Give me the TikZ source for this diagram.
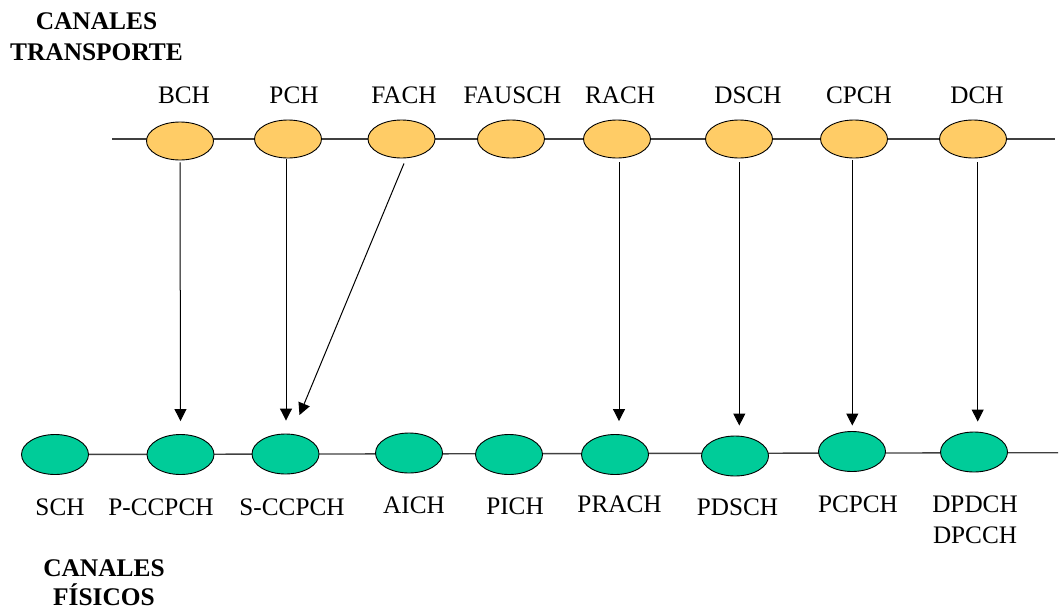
\documentclass[tikz,border=0pt]{standalone}
\usepackage{fontspec}
\setmainfont{Liberation Serif}
\usetikzlibrary{arrows.meta,calc,shapes.geometric}
\definecolor{chanorange}{HTML}{FFCC66}
\definecolor{changreen}{HTML}{00CC99}
\definecolor{wire}{HTML}{404040}
\tikzset{
  chan/.style={ellipse, draw=black, line width=0.9pt, inner sep=0pt, minimum width=67pt},
  tch/.style={chan, fill=chanorange, minimum height=38pt},
  pch/.style={chan, fill=changreen, minimum height=40pt},
  busline/.style={draw=wire, line width=1.4pt},
  maparrow/.style={draw=black, line width=1pt, -{Triangle[width=12pt,length=12pt]}},
  lbl/.style={anchor=base, inner sep=0pt, font=\fontsize{25.2}{30.6}\selectfont},
  title/.style={anchor=base, inner sep=0pt, font=\fontsize{25.4}{30.6}\selectfont\bfseries}
}
\begin{document}
\begin{tikzpicture}[x=1pt,y=-1pt]
\useasboundingbox (0,0) rectangle (1059,610);

% section titles
\node[title] (ttop1) at (96.5,29.3) {CANALES};
\node[title] (ttop2) at (96.5,60) {TRANSPORTE};
\node[title] (tbot1) at (104,576.5) {CANALES};
\node[title] (tbot2) at (104,605.3) {FÍSICOS};

% bus lines behind the channels
\coordinate (tl) at (112,139);
\coordinate (tr) at (1055,139);
\coordinate (bl) at (55,454.5);
\coordinate (br) at (1058,452.7);
\draw[busline] (tl) -- (tr);
\draw[busline] (bl) -- (br);

% transport channels
\node[tch] (bch)    at (180,141) {};
\node[tch] (pchn)   at (288,139) {};
\node[tch] (fach)   at (401.5,139) {};
\node[tch] (fausch) at (511,139) {};
\node[tch] (rach)   at (617,139) {};
\node[tch] (dsch)   at (739,139) {};
\node[tch] (cpch)   at (854,139) {};
\node[tch] (dch)    at (973,139) {};

\node[lbl] (lbch)    at (184,103) {BCH};
\node[lbl] (lpch)    at (294,103) {PCH};
\node[lbl] (lfach)   at (404,103) {FACH};
\node[lbl] (lfausch) at (512.5,103) {FAUSCH};
\node[lbl] (lrach)   at (620,103) {RACH};
\node[lbl] (ldsch)   at (748,103) {DSCH};
\node[lbl] (lcpch)   at (859,103) {CPCH};
\node[lbl] (ldch)    at (977,103) {DCH};

% physical channels
\node[pch] (sch)    at (55,454.5) {};
\node[pch] (pccpch) at (180.5,454.5) {};
\node[pch] (sccpch) at (285.5,454) {};
\node[pch] (aich)   at (409,453) {};
\node[pch] (pich)   at (509,454.5) {};
\node[pch] (prach)  at (615,454.5) {};
\node[pch] (pdsch)  at (735,456) {};
\node[pch] (pcpch)  at (852,451.5) {};
\node[pch] (dpdch)  at (974,452) {};

\node[lbl] (lsch)    at (60,515) {SCH};
\node[lbl] (lpccpch) at (161,515) {P-CCPCH};
\node[lbl] (lsccpch) at (292,515) {S-CCPCH};
\node[lbl] (laich)   at (414,513.6) {AICH};
\node[lbl] (lpich)   at (515,514) {PICH};
\node[lbl] (lprach)  at (619.5,512.7) {PRACH};
\node[lbl] (lpdsch)  at (737.5,515.5) {PDSCH};
\node[lbl] (lpcpch)  at (858,512.7) {PCPCH};
\node[lbl] (ldpdch)  at (975,512.7) {DPDCH};
\node[lbl] (ldpcch)  at (975,543.4) {DPCCH};

% mappings transport -> physical
\draw[maparrow] ($(bch.south)+(0,2)$)    -- ($(pccpch.north)+(0,-13)$);
\draw[maparrow] ($(pchn.south)+(-2,1)$)  -- ($(sccpch.north)+(0.5,-13)$);
\draw[maparrow] ($(fach.south)+(2.5,5)$) -- ($(sccpch.north)+(14,-18.5)$);
\draw[maparrow] ($(rach.south)+(2,4)$)   -- ($(prach.north)+(4,-13)$);
\draw[maparrow] ($(dsch.south)+(0.3,4)$) -- ($(pdsch.north)+(4.3,-10)$);
\draw[maparrow] ($(cpch.south)+(-1.7,2)$) -- ($(pcpch.north)+(0.3,-5.5)$);
\draw[maparrow] ($(dch.south)+(4.7,4)$)  -- ($(dpdch.north)+(3.7,-10)$);
\end{tikzpicture}
\end{document}
